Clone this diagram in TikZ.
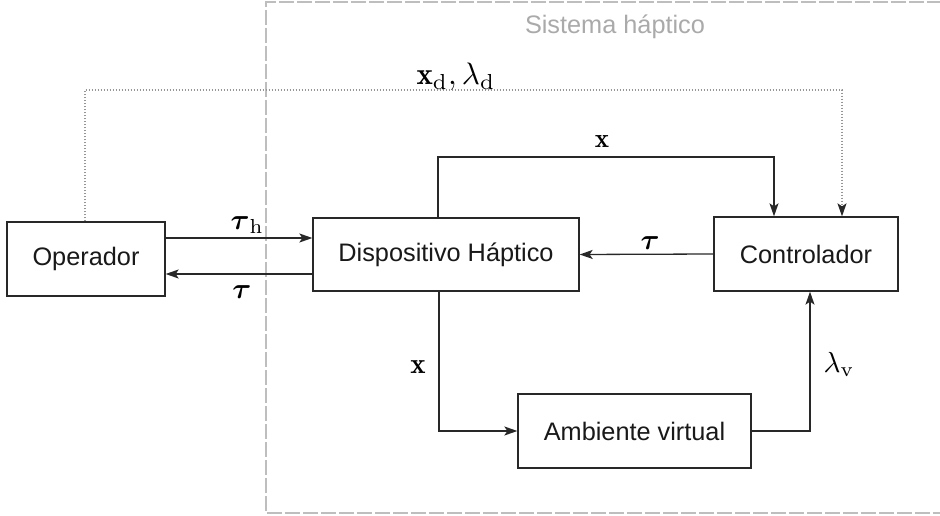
\documentclass[tikz,border=0pt]{standalone}
\usepackage{amsmath}
\usepackage{fontspec}
\newfontfamily\arial{Liberation Sans}
\usetikzlibrary{arrows.meta}
\definecolor{ln}{RGB}{40,40,40}
\definecolor{frame}{RGB}{190,190,190}
\definecolor{dotc}{RGB}{150,150,150}
\definecolor{titlec}{RGB}{170,170,170}
\begin{document}
\begin{tikzpicture}[x=1pt,y=-1pt,
  blk/.style={draw=ln, line width=1.3pt, inner sep=0pt, text=black!90,
    font=\fontsize{25.3}{30}\arial},
  arr/.style={draw=ln, line width=1.3pt, -{Stealth[length=13pt,width=9pt,inset=3pt]}},
  lab/.style={inner sep=0pt, scale=2.9},
  labb/.style={inner sep=0pt, scale=3.1},
  labs/.style={inner sep=0pt, scale=2.7}]
\useasboundingbox[fill=white] (0,0) rectangle (940,516);
% frame of the haptic system
\draw[frame, line width=1.3pt, dash pattern=on 15pt off 3pt]
  (960,2) -- (266,2) -- (266,513) -- (960,513);
\node[text=titlec, inner sep=0pt, font=\fontsize{25.3}{30}\arial] (title) at (615,27) {Sistema háptico};
% blocks
\node[blk, minimum width=158pt, minimum height=74pt] (op) at (86,259) {Operador};
\node[blk, minimum width=266pt, minimum height=73pt] (dh) at (446,254.5) {Dispositivo Háptico};
\node[blk, minimum width=184pt, minimum height=74pt] (ctrl) at (806,254) {Controlador};
\node[blk, minimum width=233pt, minimum height=74pt] (av) at (634.5,431) {Ambiente virtual};
% helper coordinates
\coordinate (xtop) at (438,157);
\coordinate (dtop) at (85,90);
% connectors
\draw[arr] (op.east |- 0,238) -- (dh.west |- 0,238);
\draw[arr] (dh.west |- 0,274) -- (op.east |- 0,274);
\draw[arr] (ctrl.west) -- (dh.east);
\draw[arr] (dh.north -| xtop) -- (xtop) -| (ctrl.north -| 774,0);
\draw[arr] (dh.south -| 439,0) |- (av.west);
\draw[arr] (av.east) -| (ctrl.south -| 810,0);
\draw[dotc, line width=1.2pt, dash pattern=on 1.2pt off 1.8pt, -{Stealth[length=13pt,width=9pt,inset=3pt,ln,fill=ln]}]
  (op.north -| dtop) -- (dtop) -| (ctrl.north -| 842,0);
% labels
\node[labb, anchor=base west] (lxd) at (416,85) {$\mathbf{x}_\mathrm{d},\lambda_\mathrm{d}$};
\node[labs, anchor=base] (lxt) at (602,148) {$\mathbf{x}$};
\node[lab, anchor=base] (ltc) at (650,249) {$\boldsymbol{\tau}$};
\node[lab, anchor=base west] (lth) at (230,229) {$\boldsymbol{\tau}_\mathrm{h}$};
\node[lab, anchor=base] (lto) at (242,298) {$\boldsymbol{\tau}$};
\node[lab, anchor=base] (lxl) at (418,373) {$\mathbf{x}$};
\node[lab, anchor=base west] (llv) at (823,372) {$\lambda_\mathrm{v}$};
\end{tikzpicture}
\end{document}
